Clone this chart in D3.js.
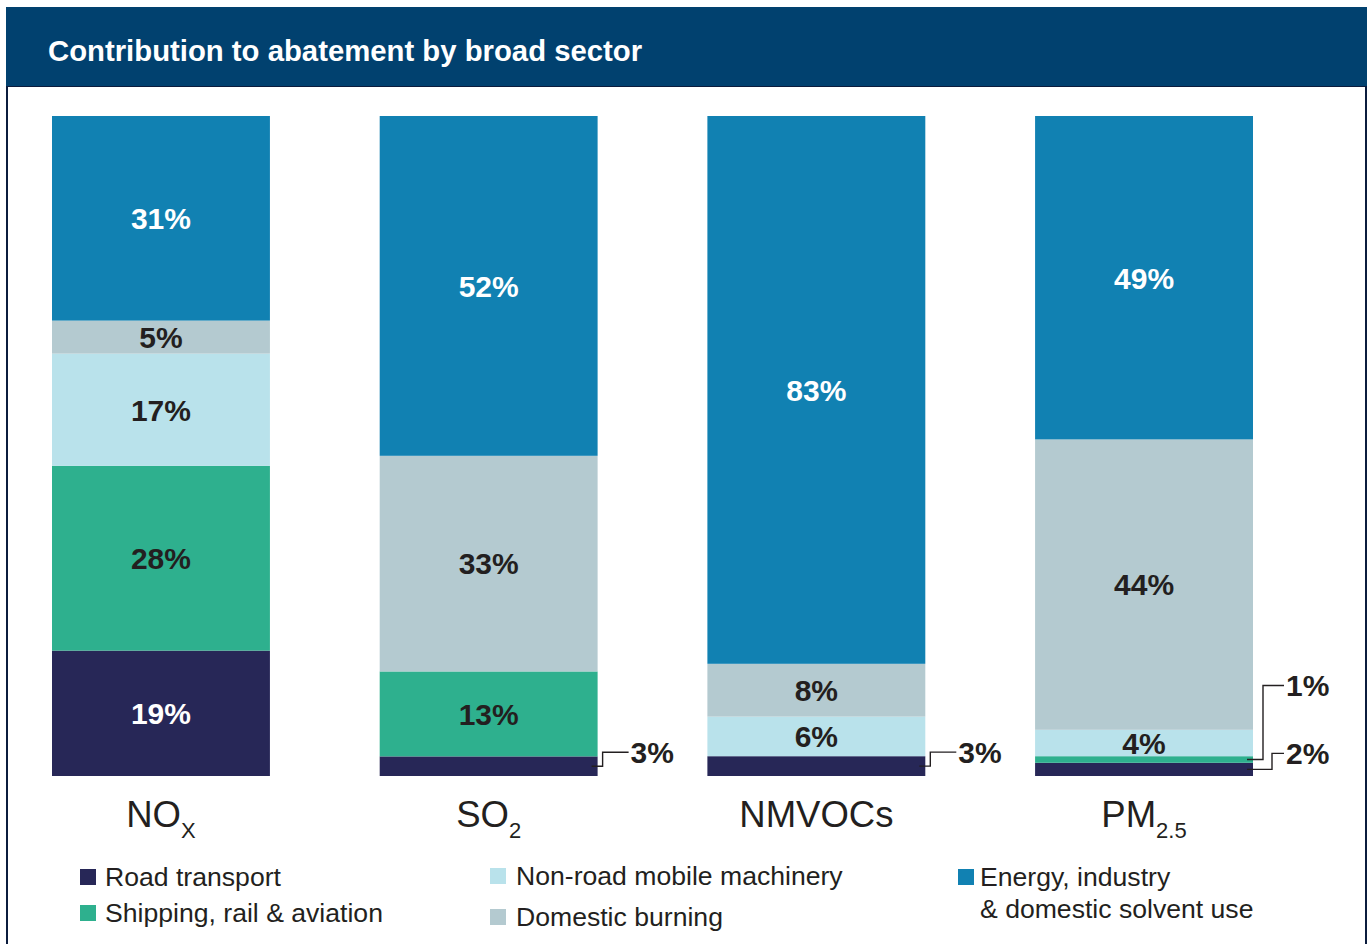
<!DOCTYPE html>
<html>
<head>
<meta charset="utf-8">
<script src="https://cdn.jsdelivr.net/npm/d3@7"></script>
<style>
  html, body { margin: 0; padding: 0; background: #ffffff; }
  svg { display: block; font-family: "Liberation Sans", Arial, sans-serif; }
</style>
</head>
<body>
<svg id="chart" width="1368" height="944"></svg>
<script>
// Pollutants (x categories) and their subscript parts
const pollutants = ["NOx", "SO2", "NMVOCs", "PM2.5"];
const pollutantMain = ["NO", "SO", "NMVOCs", "PM"];
const pollutantSub = ["X", "2", "", "2.5"];

// Sectors in stacking order (bottom to top)
const sectors = ["road", "shipping", "nrmm", "domestic", "energy"];
const sectorNames = [
  "Road transport",
  "Shipping, rail & aviation",
  "Non-road mobile machinery",
  "Domestic burning",
  "Energy, industry & domestic solvent use"
];

// Share of abatement (%) per pollutant, one array per sector
const road     = [19, 3, 3, 2];
const shipping = [28, 13, 0, 1];
const nrmm     = [17, 0, 6, 4];
const domestic = [5, 33, 8, 44];
const energy   = [31, 52, 83, 49];

const title = "Contribution to abatement by broad sector";

const colors = {
  road: "#272757",
  shipping: "#2eb08e",
  nrmm: "#b9e2eb",
  domestic: "#b4cad0",
  energy: "#1181b2"
};
const labelColors = {
  road: "#ffffff", shipping: "#231f20", nrmm: "#231f20",
  domestic: "#231f20", energy: "#ffffff"
};

// Small segments labelled outside the bar with an elbow leader line
const callouts = [
  { pollutant: "SO2",    sector: "road",     rise: 14, elbow: 5 },
  { pollutant: "NMVOCs", sector: "road",     rise: 14, elbow: 5 },
  { pollutant: "PM2.5",  sector: "road",     rise: 16, elbow: 19 },
  { pollutant: "PM2.5",  sector: "shipping", rise: 74, elbow: 10 }
];

const table = pollutants.map((p, i) => ({
  pollutant: p,
  road: road[i], shipping: shipping[i], nrmm: nrmm[i],
  domestic: domestic[i], energy: energy[i]
}));

const svg = d3.select("#chart");

// Frame and title banner
svg.append("rect")
  .attr("x", 7).attr("y", 86).attr("width", 1359).attr("height", 900)
  .attr("fill", "#ffffff").attr("stroke", "#0b1c3d").attr("stroke-width", 2);
svg.append("rect")
  .attr("x", 6).attr("y", 7).attr("width", 1361).attr("height", 79)
  .attr("fill", "#01416f");
svg.append("text")
  .attr("x", 48).attr("y", 61)
  .attr("fill", "#ffffff").attr("font-weight", "bold").attr("font-size", 29.3)
  .text(title);

// Scales
const x = d3.scaleBand().domain(pollutants).range([52, 1253]).paddingInner(0.335).paddingOuter(0);
const y = d3.scaleLinear().domain([0, 1]).range([776, 116]);

const stack = d3.stack().keys(sectors).offset(d3.stackOffsetExpand);
const series = stack(table);

const g = svg.append("g");

// Bars
series.forEach(s => {
  g.selectAll(null)
    .data(s)
    .enter().append("rect")
    .attr("x", d => x(d.data.pollutant))
    .attr("width", x.bandwidth())
    .attr("y", d => y(d[1]))
    .attr("height", d => Math.max(0, y(d[0]) - y(d[1])))
    .attr("fill", colors[s.key]);
});

// Value labels
const isCallout = (p, k) => callouts.some(c => c.pollutant === p && c.sector === k);
series.forEach(s => {
  s.forEach(d => {
    const p = d.data.pollutant;
    const v = d.data[s.key];
    if (v <= 0 || isCallout(p, s.key)) return;
    g.append("text")
      .attr("x", x(p) + x.bandwidth() / 2)
      .attr("y", (y(d[0]) + y(d[1])) / 2)
      .attr("dy", "0.36em")
      .attr("text-anchor", "middle")
      .attr("font-weight", "bold").attr("font-size", 30)
      .attr("fill", labelColors[s.key])
      .text(v + "%");
  });
});

// Callout labels for thin segments
callouts.forEach(c => {
  const s = series.find(ss => ss.key === c.sector);
  const d = s.find(dd => dd.data.pollutant === c.pollutant);
  const midY = (y(d[0]) + y(d[1])) / 2;
  const right = x(c.pollutant) + x.bandwidth();
  const ly = midY - c.rise;
  const path = d3.path();
  path.moveTo(right - 6, midY);
  path.lineTo(right + c.elbow, midY);
  path.lineTo(right + c.elbow, ly);
  path.lineTo(right + 31, ly);
  g.append("path").attr("d", path.toString())
    .attr("fill", "none").attr("stroke", "#231f20").attr("stroke-width", 1.4);
  g.append("text")
    .attr("x", right + 33).attr("y", ly).attr("dy", "0.36em")
    .attr("font-weight", "bold").attr("font-size", 30).attr("fill", "#231f20")
    .text(d.data[c.sector] + "%");
});

// Category axis labels with subscripts
const xAxis = d3.axisBottom(x).tickSize(0).tickFormat("");
const axisG = svg.append("g").attr("transform", "translate(0,776)").call(xAxis);
axisG.select(".domain").remove();
axisG.selectAll(".tick").each(function(p, i) {
  const t = d3.select(this).append("text")
    .attr("y", 51)
    .attr("text-anchor", "middle")
    .attr("fill", "#231f20")
    .attr("font-size", 36.5);
  t.append("tspan").text(pollutantMain[i]);
  if (pollutantSub[i]) {
    t.append("tspan").attr("dy", 11).attr("font-size", 22).text(pollutantSub[i]);
  }
});

// Legend
const legendItems = [
  { key: "road",     x: 80,  tx: 105, y: 877, lines: [sectorNames[0]] },
  { key: "shipping", x: 80,  tx: 105, y: 913, lines: [sectorNames[1]] },
  { key: "nrmm",     x: 490, tx: 516, y: 876, lines: [sectorNames[2]] },
  { key: "domestic", x: 490, tx: 516, y: 917, lines: [sectorNames[3]] },
  { key: "energy",   x: 958, tx: 980, y: 877, lines: ["Energy, industry", "& domestic solvent use"] }
];
const lg = svg.append("g");
legendItems.forEach(it => {
  lg.append("rect")
    .attr("x", it.x).attr("y", it.y - 8).attr("width", 16).attr("height", 16)
    .attr("fill", colors[it.key]);
  it.lines.forEach((line, j) => {
    lg.append("text")
      .attr("x", it.tx).attr("y", it.y + j * 32)
      .attr("dy", "0.35em")
      .attr("font-size", 26.6).attr("fill", "#231f20")
      .text(line);
  });
});
</script>
</body>
</html>
